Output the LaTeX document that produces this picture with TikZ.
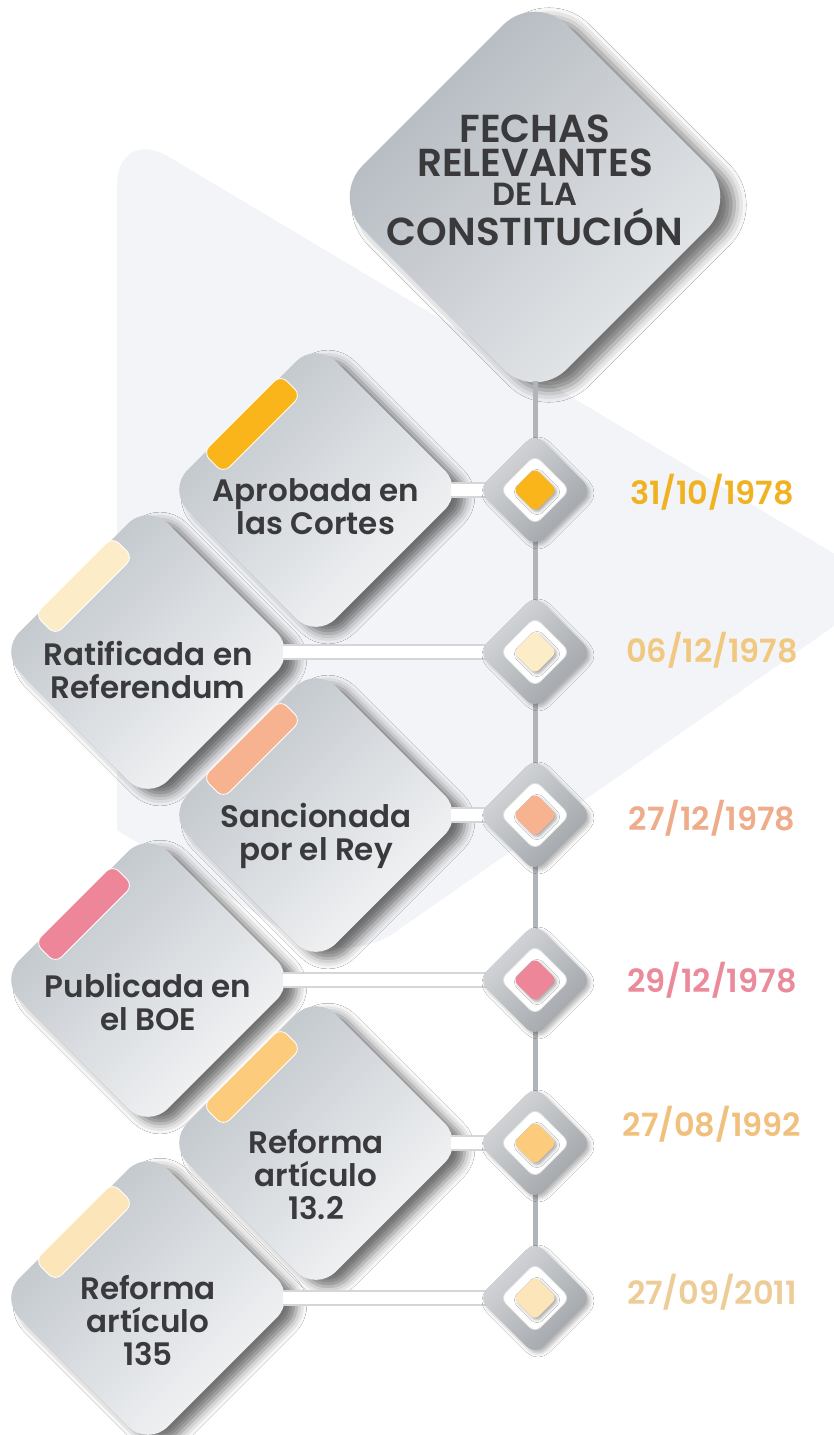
\documentclass[tikz,border=0pt]{standalone}
\usepackage{fontspec}
\setmainfont{Poppins}
\newfontfamily\semibold{Poppins SemiBold}
\usetikzlibrary{shapes.geometric,shadows.blur}
\definecolor{inkgray}{RGB}{58,58,61}
\definecolor{backdrop}{RGB}{243,244,248}
\definecolor{cardtop}{RGB}{188,194,200}
\definecolor{cardbottom}{RGB}{247,248,249}
\definecolor{titletop}{RGB}{176,182,189}
\definecolor{titlebottom}{RGB}{233,235,237}
\definecolor{spinegray}{RGB}{178,181,184}
\definecolor{barrim}{RGB}{212,214,216}
\definecolor{hubhi}{RGB}{216,218,221}
\definecolor{hublo}{RGB}{158,162,166}
\definecolor{hubrim}{RGB}{224,225,226}
\definecolor{amber}{RGB}{249,181,26}
\definecolor{cream}{RGB}{253,236,200}
\definecolor{salmon}{RGB}{247,178,143}
\definecolor{rose}{RGB}{237,134,152}
\definecolor{apricot}{RGB}{252,204,124}
\definecolor{vanilla}{RGB}{253,229,186}
\definecolor{amberdate}{RGB}{240,178,32}
\definecolor{creamdate}{RGB}{240,200,128}
\definecolor{salmondate}{RGB}{238,172,138}
\definecolor{rosedate}{RGB}{234,138,154}
\definecolor{apricotdate}{RGB}{240,192,124}
\definecolor{vanilladate}{RGB}{238,204,152}
\tikzset{panel/.style={diamond,aspect=1,inner sep=0pt,minimum size=297pt,rounded corners=28pt,top color=cardtop,bottom color=cardbottom,shading angle=45,blur shadow={shadow xshift=12pt,shadow yshift=-7pt,shadow blur radius=10pt,shadow opacity=55}},
 tab/.style={rectangle,rotate=45,minimum width=110pt,minimum height=29pt,inner sep=0pt,rounded corners=9pt,fill=#1,draw=white,line width=0.8pt},
 cardtext/.style={font={\semibold\fontsize{31}{33}\selectfont},text=inkgray,align=center,inner sep=0pt,anchor=north},
 datetext/.style={font={\semibold\fontsize{32}{32}\selectfont},text=#1,inner sep=0pt},
 hub/.style={diamond,aspect=1,inner sep=0pt,minimum size=114pt,rounded corners=12pt,top color=hubhi,bottom color=hublo,shading angle=45,blur shadow={shadow xshift=3pt,shadow yshift=-3pt,shadow blur radius=4pt,shadow opacity=30}},
 hubwhite/.style={diamond,aspect=1,inner sep=0pt,minimum size=70pt,rounded corners=8pt,fill=white,draw=hubrim,line width=0.8pt},
 hubdot/.style={diamond,aspect=1,inner sep=0pt,minimum size=44pt,rounded corners=6pt,fill=#1,blur shadow={shadow xshift=2pt,shadow yshift=-2pt,shadow blur radius=3pt,shadow opacity=35}},
 bar/.style={draw=barrim,double=white,double distance=12pt,line width=1.8pt},
 spine/.style={draw=spinegray,line width=5pt}}
\begin{document}
\begin{tikzpicture}[x=1pt,y=-1pt]
\useasboundingbox (0,0) rectangle (833,1435);
\fill[white] (0,0) rectangle (833,1435);
\fill[backdrop] (117,830) [rounded corners=60pt] -- (117,126) -- (890,587) -- (345,967) [sharp corners] -- cycle;
\coordinate (k1) at (535,490); \coordinate (k2) at (535,652); \coordinate (k3) at (535,815);
\coordinate (k4) at (535,980); \coordinate (k5) at (535,1143); \coordinate (k6) at (535,1298);
\node[diamond,aspect=1,inner sep=0pt,minimum size=408pt,rounded corners=45pt,top color=titletop,bottom color=titlebottom,shading angle=45,blur shadow={shadow xshift=14pt,shadow yshift=-8pt,shadow blur radius=12pt,shadow opacity=55}] (title) at (535,197) {};
\node[font={\semibold\fontsize{39}{35}\selectfont},text=inkgray,align=center,inner sep=0pt] (heading) at ([shift={(0,-17)}]title.center) {FECHAS\\[-1pt]RELEVANTES\\[-6pt]{\fontsize{32}{28}\selectfont DE LA}\\[2pt]CONSTITUCIÓN};
\draw[spine] ([yshift=20pt]title.south) -- (k6);
\node[panel] (c1) at (316,490) {};
\node[tab=amber] (tab1) at ([shift={(-64,-66)}]c1.center) {};
\node[cardtext] (t1) at (316,478) {Aprobada en\\las Cortes};
\node[panel] (c2) at (148,652) {};
\node[tab=cream] (tab2) at ([shift={(-64,-66)}]c2.center) {};
\node[cardtext] (t2) at (148,641) {Ratificada en\\Referendum};
\node[panel] (c3) at (316,815) {};
\node[tab=salmon] (tab3) at ([shift={(-64,-66)}]c3.center) {};
\node[cardtext] (t3) at (316,803) {Sancionada\\por el Rey};
\node[panel] (c4) at (148,980) {};
\node[tab=rose] (tab4) at ([shift={(-64,-66)}]c4.center) {};
\node[cardtext] (t4) at (148,973) {Publicada en\\el BOE};
\node[panel] (c5) at (316,1143) {};
\node[tab=apricot] (tab5) at ([shift={(-64,-66)}]c5.center) {};
\node[cardtext] (t5) at (316,1129) {Reforma\\artículo\\13.2};
\node[panel] (c6) at (148,1298) {};
\node[tab=vanilla] (tab6) at ([shift={(-64,-66)}]c6.center) {};
\node[cardtext] (t6) at (148,1275) {Reforma\\artículo\\135};
\draw[bar] ([xshift=-14pt]c1.east) -- (k1);
\draw[bar] ([xshift=-14pt]c2.east) -- (k2);
\draw[bar] ([xshift=-14pt]c3.east) -- (k3);
\draw[bar] ([xshift=-14pt]c4.east) -- (k4);
\draw[bar] ([xshift=-14pt]c5.east) -- (k5);
\draw[bar] ([xshift=-14pt]c6.east) -- (k6);
\node[hub] (d1) at (k1) {}; \node[hubwhite] (w1) at (k1) {}; \node[hubdot=amber] (p1) at (k1) {};
\node[hub] (d2) at (k2) {}; \node[hubwhite] (w2) at (k2) {}; \node[hubdot=cream] (p2) at (k2) {};
\node[hub] (d3) at (k3) {}; \node[hubwhite] (w3) at (k3) {}; \node[hubdot=salmon] (p3) at (k3) {};
\node[hub] (d4) at (k4) {}; \node[hubwhite] (w4) at (k4) {}; \node[hubdot=rose] (p4) at (k4) {};
\node[hub] (d5) at (k5) {}; \node[hubwhite] (w5) at (k5) {}; \node[hubdot=apricot] (p5) at (k5) {};
\node[hub] (d6) at (k6) {}; \node[hubwhite] (w6) at (k6) {}; \node[hubdot=vanilla] (p6) at (k6) {};
\node[datetext=amberdate] (f1) at (712,492) {31/10/1978};
\node[datetext=creamdate] (f2) at (712,650) {06/12/1978};
\node[datetext=salmondate] (f3) at (712,818) {27/12/1978};
\node[datetext=rosedate] (f4) at (712,980) {29/12/1978};
\node[datetext=apricotdate] (f5) at (712,1124) {27/08/1992};
\node[datetext=vanilladate] (f6) at (712,1292) {27/09/2011};
\end{tikzpicture}
\end{document}
